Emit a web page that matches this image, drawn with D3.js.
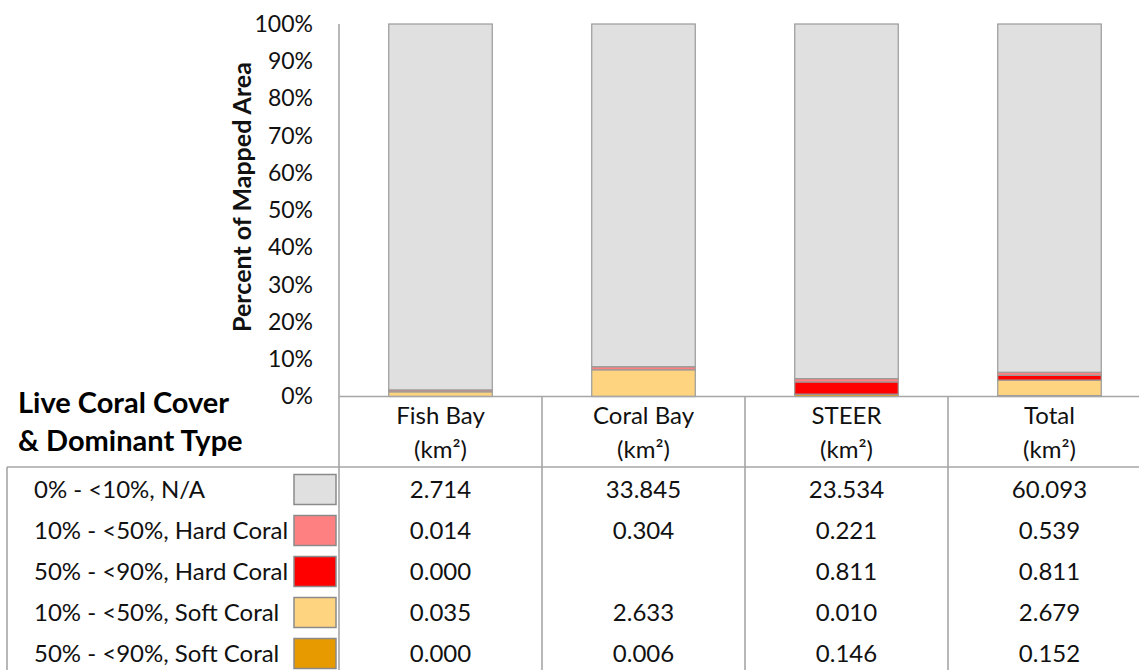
<!DOCTYPE html>
<html>
<head>
<meta charset="utf-8">
<script src="https://cdn.jsdelivr.net/npm/d3@7"></script>
<style>
  html, body { margin: 0; padding: 0; background: #fff; }
  svg { display: block; font-family: Lato, "Open Sans", sans-serif; }
</style>
</head>
<body>
<svg id="chart" width="1139" height="670"></svg>
<script>
// Sites (columns) and area of each cover class in km²
const sites = ["Fish Bay", "Coral Bay", "STEER", "Total"];
const classLabels = [
  "0% - <10%, N/A",
  "10% - <50%, Hard Coral",
  "50% - <90%, Hard Coral",
  "10% - <50%, Soft Coral",
  "50% - <90%, Soft Coral"
];
const classKeys = ["na", "hardLow", "hardHigh", "softLow", "softHigh"];
const classColors = ["#e0e0e0", "#ff8080", "#ff0000", "#ffd480", "#e69a00"];

const naArea       = [2.714, 33.845, 23.534, 60.093];
const hardLowArea  = [0.014, 0.304, 0.221, 0.539];
const hardHighArea = [0.000, null, 0.811, 0.811];
const softLowArea  = [0.035, 2.633, 0.010, 2.679];
const softHighArea = [0.000, 0.006, 0.146, 0.152];

const yTicks = [0, 0.1, 0.2, 0.3, 0.4, 0.5, 0.6, 0.7, 0.8, 0.9, 1.0];

const seriesArrays = [naArea, hardLowArea, hardHighArea, softLowArea, softHighArea];
const rows = sites.map((s, i) => {
  const r = { site: s };
  classKeys.forEach((k, j) => { r[k] = seriesArrays[j][i] || 0; });
  return r;
});

const svg = d3.select("#chart");
const W = 1139, H = 670;
const plotLeft = 339, plotRight = 1151;
const plotTop = 24, plotBottom = 396.5;
const gridColor = "#a6a6a6";
const textColor = "#111";

const x = d3.scaleBand().domain(sites).range([plotLeft, plotRight]).paddingInner(0.49).paddingOuter(0.245);
const xCol = d3.scaleBand().domain(sites).range([plotLeft, plotRight]);
const y = d3.scaleLinear().domain([0, 1]).range([plotBottom, plotTop]);

// stacked from bottom: soft high, soft low, hard high, hard low, n/a
const stackOrder = ["softHigh", "softLow", "hardHigh", "hardLow", "na"];
const stack = d3.stack().keys(stackOrder).offset(d3.stackOffsetExpand);
const layers = stack(rows);
const colorOf = k => classColors[classKeys.indexOf(k)];

svg.append("g").selectAll("g")
  .data(layers).join("g")
  .attr("fill", d => colorOf(d.key))
  .selectAll("rect")
  .data(d => d).join("rect")
  .attr("x", d => x(d.data.site))
  .attr("width", x.bandwidth())
  .attr("y", d => y(d[1]))
  .attr("height", d => y(d[0]) - y(d[1]))
  .attr("stroke", "#9a9a9a")
  .attr("stroke-width", 1.2);

// y axis
const yAxis = d3.axisLeft(y).tickValues(yTicks).tickFormat(d3.format(".0%")).tickSize(0).tickPadding(26);
const ya = svg.append("g").attr("transform", `translate(${plotLeft},0)`).call(yAxis);
ya.select(".domain").remove();
ya.selectAll("text").attr("font-size", 23).attr("fill", textColor).attr("font-family", "Lato, sans-serif");

svg.append("text")
  .attr("transform", `translate(251,197) rotate(-90)`)
  .attr("text-anchor", "middle")
  .attr("font-size", 25)
  .attr("font-weight", "bold")
  .attr("fill", textColor)
  .text("Percent of Mapped Area");

// grid lines: axis/column dividers and table rules
const lines = svg.append("g").attr("stroke", gridColor).attr("stroke-width", 1.6);
lines.append("line").attr("x1", plotLeft).attr("x2", plotLeft).attr("y1", plotTop).attr("y2", H);
sites.forEach((s, i) => {
  if (i > 0) lines.append("line").attr("x1", xCol(s)).attr("x2", xCol(s)).attr("y1", plotBottom).attr("y2", H);
});
lines.append("line").attr("x1", plotLeft).attr("x2", W).attr("y1", plotBottom).attr("y2", plotBottom);
const headerRule = 467;
lines.append("line").attr("x1", 7).attr("x2", W).attr("y1", headerRule).attr("y2", headerRule);
lines.append("line").attr("x1", 7).attr("x2", 7).attr("y1", headerRule).attr("y2", H);

// table header
svg.append("text").attr("x", 18).attr("y", 413).attr("font-size", 29).attr("font-weight", "bold").attr("fill", "#000").text("Live Coral Cover");
svg.append("text").attr("x", 18).attr("y", 451).attr("font-size", 29).attr("font-weight", "bold").attr("fill", "#000").text("& Dominant Type");

const header = svg.append("g").attr("font-size", 24).attr("fill", textColor).attr("text-anchor", "middle");
sites.forEach(s => {
  const cx = xCol(s) + xCol.bandwidth() / 2;
  header.append("text").attr("x", cx).attr("y", 424).text(s);
  header.append("text").attr("x", cx).attr("y", 458).text("(km²)");
});

// table body
const rowY = d3.scaleBand().domain(classKeys).range([headerRule + 2, H + 4]);
const body = svg.append("g").attr("font-size", 24).attr("fill", textColor);
classKeys.forEach((k, j) => {
  const cy = rowY(k) + rowY.bandwidth() / 2;
  body.append("text").attr("x", 34).attr("y", cy + 8).text(classLabels[j]);
  body.append("rect")
    .attr("x", 294).attr("y", cy - 15).attr("width", 42).attr("height", 30)
    .attr("fill", classColors[j]).attr("stroke", "#8a8a8a").attr("stroke-width", 1.5);
  sites.forEach((s, i) => {
    const v = seriesArrays[j][i];
    body.append("text")
      .attr("x", xCol(s) + xCol.bandwidth() / 2)
      .attr("y", cy + 8)
      .attr("text-anchor", "middle")
      .text(v == null ? "" : d3.format(".3f")(v));
  });
});
</script>
</body>
</html>
